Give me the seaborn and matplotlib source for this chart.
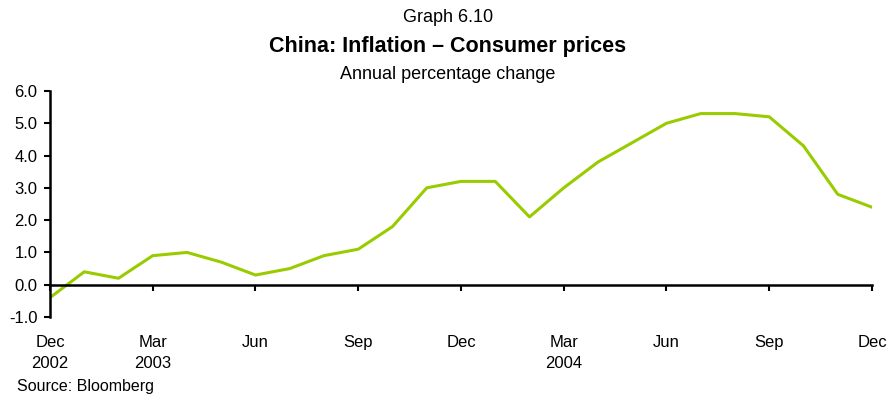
import pandas as pd
import matplotlib.pyplot as plt
import seaborn as sns

# Monthly CPI, Dec 2002 - Dec 2004 (annual % change)
months = ['Dec 2002', 'Jan 2003', 'Feb 2003', 'Mar 2003', 'Apr 2003', 'May 2003',
          'Jun 2003', 'Jul 2003', 'Aug 2003', 'Sep 2003', 'Oct 2003', 'Nov 2003',
          'Dec 2003', 'Jan 2004', 'Feb 2004', 'Mar 2004', 'Apr 2004', 'May 2004',
          'Jun 2004', 'Jul 2004', 'Aug 2004', 'Sep 2004', 'Oct 2004', 'Nov 2004',
          'Dec 2004']
cpi = [-0.4, 0.4, 0.2, 0.9, 1.0, 0.7, 0.3, 0.5, 0.9, 1.1, 1.8, 3.0,
       3.2, 3.2, 2.1, 3.0, 3.8, 4.4, 5.0, 5.3, 5.3, 5.2, 4.3, 2.8, 2.4]
tick_labels = ['Dec\n2002', 'Mar\n2003', 'Jun', 'Sep', 'Dec',
               'Mar\n2004', 'Jun', 'Sep', 'Dec']

df = pd.DataFrame({'month': months, 'cpi': cpi})
df['idx'] = range(len(df))

sns.set_style("white")
plt.rcParams['font.family'] = ['Liberation Sans', 'DejaVu Sans']
plt.rcParams['text.color'] = 'black'
plt.rcParams['xtick.color'] = 'black'
plt.rcParams['ytick.color'] = 'black'

fig = plt.figure(figsize=(8.96, 3.98), dpi=100)
ax = fig.add_axes([0.0558, 0.2035, 0.9174, 0.5679])

sns.lineplot(data=df, x='idx', y='cpi', color='#99cc00', linewidth=2.2, ax=ax)

ax.set_xlim(0, 24)
ax.set_ylim(-1, 6)
ax.set_yticks([-1, 0, 1, 2, 3, 4, 5, 6])
ax.set_yticklabels([f'{v:.1f}' for v in range(-1, 7)])
ax.set_xticks(range(0, 25, 3))
ax.set_xticklabels(tick_labels, va='top')
ax.set_xlabel('')
ax.set_ylabel('')

# axis styling: x axis sits on zero
for s in ['top', 'right']:
    ax.spines[s].set_visible(False)
ax.spines['bottom'].set_position(('data', 0))
ax.spines['bottom'].set_linewidth(1.8)
ax.spines['left'].set_linewidth(1.8)
ax.spines['bottom'].set_color('black')
ax.spines['left'].set_color('black')
ax.tick_params(axis='x', direction='out', length=4, width=1.5, pad=32, labelsize=12,
               bottom=True)
ax.tick_params(axis='y', direction='out', length=4, width=1.5, pad=5, labelsize=12,
               left=True)
for lbl in ax.get_xticklabels():
    lbl.set_linespacing(1.55)

fig.text(0.5, 0.957, 'Graph 6.10', ha='center', va='center', fontsize=13)
fig.text(0.5, 0.882, 'China: Inflation \u2013 Consumer prices', ha='center', va='center',
         fontsize=15.5, fontweight='bold')
fig.text(0.5, 0.812, 'Annual percentage change', ha='center', va='center', fontsize=13)
fig.text(0.019, 0.028, 'Source: Bloomberg', ha='left', va='center', fontsize=11.5)

plt.savefig('out.png', dpi=100)
